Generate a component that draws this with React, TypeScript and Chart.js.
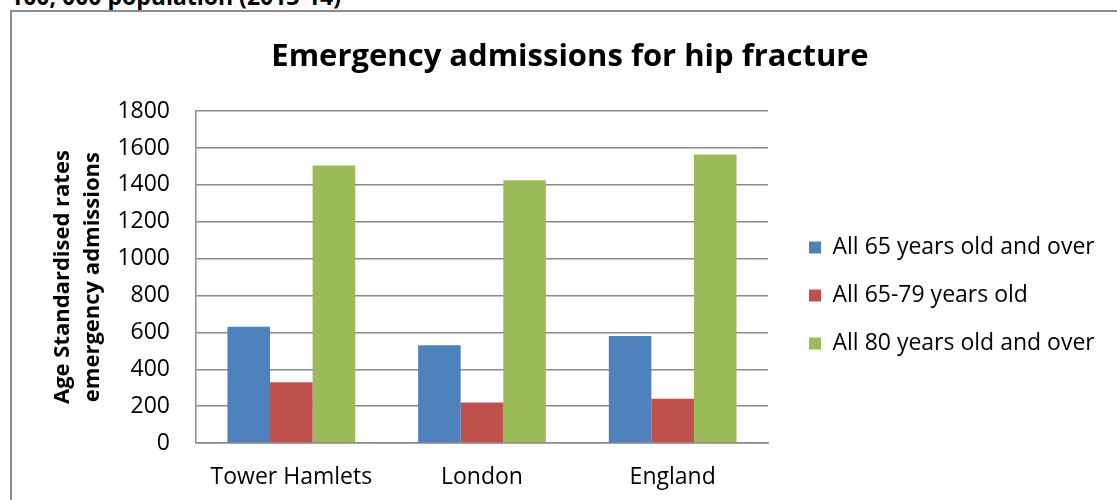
import React, { useEffect, useRef } from "react";
import { Chart, registerables } from "chart.js";

Chart.register(...registerables);

const categories = ["Tower Hamlets", "London", "England"];
const seriesNames = ["All 65 years old and over", "All 65-79 years old", "All 80 years old and over"];
const all65Over = [630, 530, 580];
const all65to79 = [330, 220, 240];
const all80Over = [1505, 1425, 1565];
const seriesColors = ["#4F81BD", "#C0504D", "#9BBB59"];
const yTicksMax = 1800;
const yStep = 200;
const chartTitle = "Emergency admissions for hip fracture";
const yTitle = ["Age Standardised rates", "emergency admissions"];
const headerText = "100, 000 population (2013-14)";

const FONT = "'Open Sans', 'Noto Sans', sans-serif";

const layoutFix = {
  id: "layoutFix",
  afterLayout(chart: any) {
    const l = chart.legend;
    if (l) {
      l.left = 772;
      l.right = 1105;
      l.width = 1105 - 772;
      l.top = 199;
      l.bottom = 488;
      l.height = 488 - 199;
    }
    const t = chart.titleBlock;
    if (t) {
      t.left = 0;
      t.right = 1116;
      t.width = 1116;
    }
  },
};

export default function App() {
  const ref = useRef<HTMLCanvasElement | null>(null);
  useEffect(() => {
    if (!ref.current) return;
    Chart.defaults.font.family = FONT;
    Chart.defaults.color = "#000";
    const chart = new Chart(ref.current, {
      type: "bar",
      data: {
        labels: categories,
        datasets: [all65Over, all65to79, all80Over].map((d, i) => ({
          label: seriesNames[i],
          data: d,
          backgroundColor: seriesColors[i],
          borderWidth: 0,
          categoryPercentage: 0.67,
          barPercentage: 1,
        })),
      },
      options: {
        animation: false,
        responsive: false,
        maintainAspectRatio: false,
        layout: { padding: { left: 0, right: 49, top: 0, bottom: 0 } },
        plugins: {
          title: {
            display: true,
            text: chartTitle,
            color: "#000",
            font: { size: 31, weight: "bold", family: FONT, lineHeight: 1.2 },
            padding: { top: 27, bottom: 35 },
          },
          legend: {
            position: "right",
            align: "start",
            maxWidth: 300,
            labels: {
              boxWidth: 12,
              boxHeight: 12,
              padding: 25,
              color: "#000",
              font: { size: 23, family: FONT },
            },
          },
          tooltip: { enabled: false },
        },
        scales: {
          x: {
            grid: { display: false, drawTicks: false },
            border: { display: true, color: "#8a8a8a", width: 1.5 },
            ticks: { padding: 21, color: "#000", font: { size: 23, family: FONT, lineHeight: 1.2 } },
            afterFit: (s: any) => {
              s.height = 57;
            },
          },
          y: {
            min: 0,
            max: yTicksMax,
            ticks: {
              stepSize: yStep,
              padding: 26,
              color: "#000",
              font: { size: 23, family: FONT },
              callback: (v: any) => String(v),
            },
            grid: { color: "#8a8a8a", lineWidth: 1.5, drawTicks: false },
            border: { display: true, color: "#8a8a8a", width: 1.5 },
            title: {
              display: true,
              text: yTitle,
              color: "#000",
              font: { size: 22, weight: "bold", family: FONT, lineHeight: 1.4 },
              padding: { top: 35, bottom: 0 },
            },
            afterFit: (s: any) => {
              s.width = 184;
            },
          },
        },
      },
      plugins: [layoutFix],
    } as any);
    return () => chart.destroy();
  }, []);

  return (
    <div style={{ position: "fixed", left: 0, top: 0, width: 1117, height: 500, overflow: "hidden", background: "#fff" }}>
      <div
        style={{
          position: "absolute",
          left: 10,
          top: -15,
          fontFamily: FONT,
          fontWeight: "bold",
          fontSize: 23,
          lineHeight: "22px",
          whiteSpace: "nowrap",
          color: "#000",
        }}
      >
        {headerText}
      </div>
      <div
        style={{
          position: "absolute",
          left: 10,
          top: 10,
          width: 1107,
          height: 490,
          boxSizing: "border-box",
          borderTop: "2px solid #8c8c8c",
          borderLeft: "2px solid #8c8c8c",
        }}
      />
      <canvas
        ref={ref}
        width={1105}
        height={488}
        style={{ position: "absolute", left: 12, top: 12, width: 1105, height: 488 }}
      />
    </div>
  );
}
